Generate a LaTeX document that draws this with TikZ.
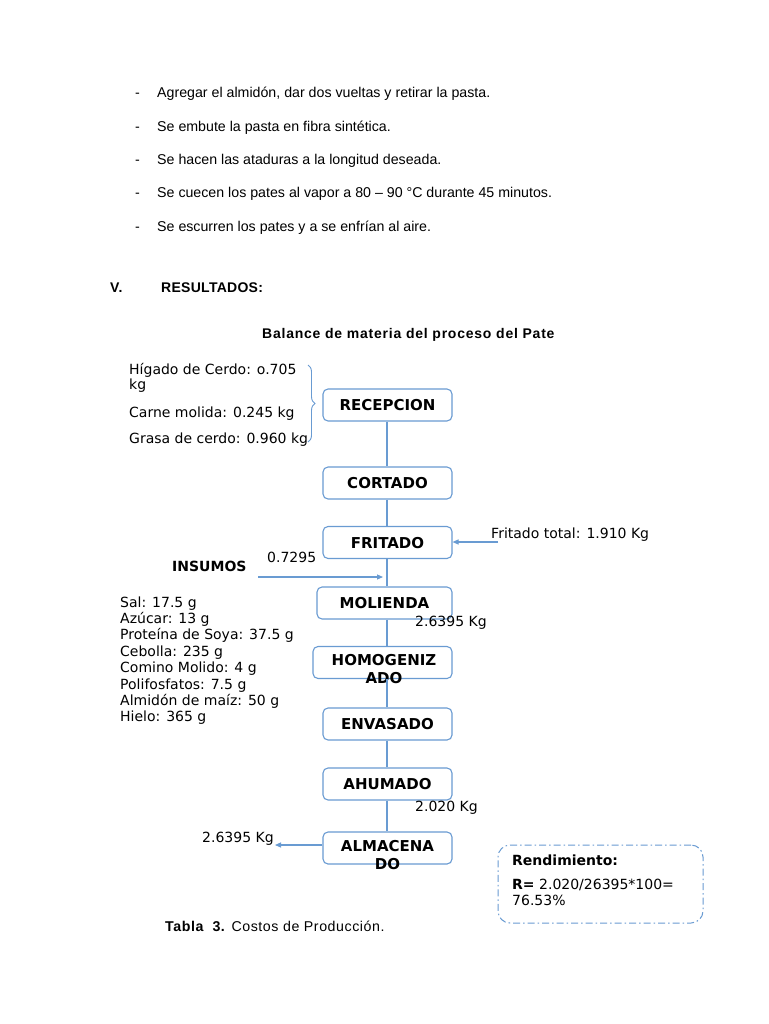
\documentclass[tikz,border=0pt]{standalone}
\usepackage{fontspec}
\setmainfont{Liberation Sans}
\newfontfamily\dv{DejaVu Sans}
\newfontfamily\arls[LetterSpace=5.5]{Liberation Sans}
\newfontfamily\arlsb[LetterSpace=2]{Liberation Sans}
\newfontfamily\arlsc[LetterSpace=4]{Liberation Sans}
\usetikzlibrary{decorations.pathreplacing,arrows.meta}
\definecolor{boxblue}{RGB}{105,155,210}
\definecolor{lineblue}{RGB}{105,155,210}
\begin{document}
\begin{tikzpicture}[x=1pt,y=-1pt,
  ar/.style={font=\fontsize{14.2}{16}\selectfont, anchor=base west, inner sep=0pt, text=black},
  arb/.style={ar, font=\arlsb\bfseries\fontsize{14}{16}\selectfont},
  dvt/.style={font=\dv\fontsize{14}{16}\selectfont, anchor=base west, inner sep=0pt},
  dvb/.style={font=\dv\bfseries\fontsize{14}{16}\selectfont, anchor=base west, inner sep=0pt},
  blab/.style={font=\dv\bfseries\fontsize{15}{17}\selectfont, anchor=base, inner sep=0pt},
  pbox/.style={draw=boxblue, line width=1.1pt, rounded corners=5pt, minimum height=32pt, inner sep=0pt},
  flow/.style={draw=lineblue, line width=1.1pt},
  flowarr/.style={flow, -{Triangle[length=6pt,width=5pt]}}
]
\useasboundingbox (0,0) rectangle (768,1024);
\fill[white] (0,0) rectangle (768,1024);

% bullet list
\node[ar] (d1) at (135,98) {-};
\node[ar] (b1) at (157,98) {Agregar el almidón, dar dos vueltas y retirar la pasta.};
\node[ar] (d2) at (135,132) {-};
\node[ar] (b2) at (157,132) {Se embute la pasta en fibra sintética.};
\node[ar] (d3) at (135,165) {-};
\node[ar] (b3) at (157,165) {Se hacen las ataduras a la longitud deseada.};
\node[ar] (d4) at (135,198) {-};
\node[ar] (b4) at (157,198) {Se cuecen los pates al vapor a 80 -- 90 °C durante 45 minutos.};
\node[ar] (d5) at (135,232) {-};
\node[ar] (b5) at (157,232) {Se escurren los pates y a se enfrían al aire.};

\node[arb] (sec) at (110,292) {V.};
\node[arb] (res) at (161,292) {RESULTADOS:};

\node[ar, anchor=base west, font=\arls\bfseries\fontsize{14}{16}\selectfont] (title) at (262,338) {Balance de materia del proceso del Pate};

% boxes
\node[pbox, minimum width=129pt] (rec) at (387.5,405) {};
\node[pbox, minimum width=129pt] (cor) at (387.5,483) {};
\node[pbox, minimum width=129pt] (fri) at (387.5,542.5) {};
\node[pbox, minimum width=135pt] (mol) at (384.5,603) {};
\node[pbox, minimum width=139pt] (hom) at (382.5,662.5) {};
\node[pbox, minimum width=129pt] (env) at (387.5,724) {};
\node[pbox, minimum width=129pt] (ahu) at (387.5,784) {};
\node[pbox, minimum width=129pt] (alm) at (387.5,848) {};

\node[blab] (trec) at (387.5,410) {RECEPCION};
\node[blab] (tcor) at (387.5,488) {CORTADO};
\node[blab] (tfri) at (387.5,548) {FRITADO};
\node[blab] (tmol) at (384.5,608) {MOLIENDA};
\node[blab] (thom1) at (384,665) {HOMOGENIZ};
\node[blab] (thom2) at (384,683) {ADO};
\node[blab] (tenv) at (387.5,729) {ENVASADO};
\node[blab] (tahu) at (387.5,789) {AHUMADO};
\node[blab] (talm1) at (387.5,851) {ALMACENA};
\node[blab] (talm2) at (387.5,869) {DO};

% vertical flow line
\coordinate (vx) at (387,0);
\draw[flow] (rec.south -| vx) -- (cor.north -| vx);
\draw[flow] (cor.south -| vx) -- (fri.north -| vx);
\draw[flow] (fri.south -| vx) -- (mol.north -| vx);
\draw[flow] (mol.south -| vx) -- (hom.north -| vx);
\draw[flow] (hom.south -| vx) -- (env.north -| vx);
\draw[flow] (env.south -| vx) -- (ahu.north -| vx);
\draw[flow] (ahu.south -| vx) -- (alm.north -| vx);

% inputs to recepcion
\node[dvt] (hig1) at (129,374) {Hígado de Cerdo: o.705};
\node[dvt] (hig2) at (129,389) {kg};
\node[dvt] (carne) at (129,417) {Carne molida: 0.245 kg};
\node[dvt] (grasa) at (129,443) {Grasa de cerdo: 0.960 kg};
\coordinate (brt) at (308,365);
\coordinate (brb) at (308,442);
\draw[draw=lineblue, line width=0.9pt, decorate, decoration={brace, amplitude=7pt}] (brt) -- (brb);

% fritado total
\node[dvt] (ftot) at (491,538) {Fritado total: 1.910 Kg};
\coordinate (fts) at (498,542);
\draw[flowarr] (fts) -- (fri.east |- fts);

% insumos
\node[dvt] (v07) at (267,562) {0.7295};
\node[dvb] (ins) at (172,571) {INSUMOS};
\coordinate (ins0) at (258,577);
\coordinate (ins1) at (383,577);
\draw[flowarr] (ins0) -- (ins1);

\foreach \t [count=\i] in {Sal: 17.5 g, Azúcar: 13 g, Proteína de Soya: 37.5 g, Cebolla: 235 g, Comino Molido: 4 g, Polifosfatos: 7.5 g, Almidón de maíz: 50 g, Hielo: 365 g}
  \node[dvt] (ing\i) at (120,{607+16.4*(\i-1)}) {\t};

\node[dvt] (k1) at (415,626) {2.6395 Kg};
\node[dvt] (k2) at (415,811) {2.020 Kg};
\node[dvt] (k3) at (202,842) {2.6395 Kg};
\coordinate (outp) at (275,845);
\draw[flowarr] (alm.west |- outp) -- (outp);

% rendimiento
\node[draw=boxblue, line width=1pt, rounded corners=12pt, dash pattern=on 7pt off 3pt on 1.5pt off 3pt,
      minimum width=205pt, minimum height=78pt, inner sep=0pt] (rend) at (600.5,884) {};
\node[dvb] (rt) at (512,865) {Rendimiento:};
\node[dvt] (r1) at (512,889) {\textbf{R=} 2.020/26395*100=};
\node[dvt] (r2) at (512,905) {76.53\%};

\node[ar, font=\arlsc\fontsize{14.2}{16}\selectfont] (tabla) at (165,931) {\textbf{Tabla\ \ 3.} Costos de Producción.};
\end{tikzpicture}
\end{document}
